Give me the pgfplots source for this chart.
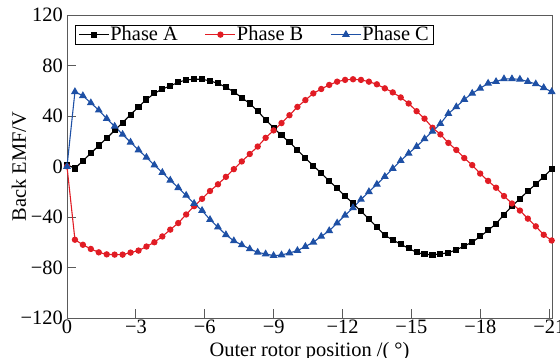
\documentclass[border=0pt]{standalone}
\usepackage{pgfplots}
\pgfplotsset{compat=1.18}
\usepackage{pgfplotstable}
\usepackage{fontspec}
\setmainfont{Liberation Serif}
\definecolor{pA}{RGB}{0,0,0}
\definecolor{pB}{RGB}{225,28,36}
\definecolor{pC}{RGB}{30,80,165}
\definecolor{axc}{RGB}{90,90,90}
\pgfplotstableread{
x A B C
0 1.5 0 0
-0.346 -1.6 -58 59.2
-0.692 4.6 -62 56
-1.038 10.4 -65.3 50.4
-1.384 16.6 -68 44.6
-1.730 22.4 -69.6 37.9
-2.076 28.6 -69.8 31.8
-2.422 34.7 -69.8 25.4
-2.768 41.1 -68.2 19.2
-3.114 47.2 -66.6 13.1
-3.460 53.1 -63.4 7.2
-3.806 57.9 -60 1.1
-4.152 61.4 -55.4 -4.8
-4.498 63.8 -50 -10.9
-4.844 66.7 -44.8 -16.8
-5.190 68.6 -38 -22.9
-5.536 69.1 -31.4 -29.3
-5.882 69.1 -25.6 -34.9
-6.228 67.8 -19.4 -42.1
-6.574 65.9 -14.1 -48
-6.920 62.7 -8.2 -54.1
-7.266 59.2 -2.1 -58.9
-7.612 54.4 4 -62.1
-7.958 49.9 9.9 -65.3
-8.304 43.8 15.8 -68
-8.650 37.1 22.7 -69.3
-8.996 30.7 28.6 -70.6
-9.342 24.6 34.4 -70.1
-9.688 19.2 40.6 -68.5
-10.034 13.1 47.2 -66.6
-10.380 6.7 52.6 -63.4
-10.726 0.6 57.9 -60
-11.072 -5.3 61.4 -55.4
-11.418 -11.4 64.6 -50.9
-11.764 -17.3 67.2 -44.8
-12.110 -23.4 68.6 -38.6
-12.456 -29.3 69.1 -32.8
-12.802 -35.4 68.6 -26.1
-13.148 -41.6 67.2 -20
-13.494 -48 65.1 -14.1
-13.840 -54.6 61.9 -8
-14.186 -58.1 58.7 -1.6
-14.532 -61.6 54.7 4.6
-14.878 -64.8 49.9 10.4
-15.224 -68 43.8 15.8
-15.570 -69.6 37.9 21.9
-15.916 -69.8 30.7 27.8
-16.262 -69.3 25.4 33.9
-16.608 -68.2 18.7 41.9
-16.954 -66.1 13.1 47.2
-17.300 -62.9 6.7 53.1
-17.646 -60 1.1 57.9
-17.992 -55.4 -5.6 61.9
-18.338 -50.6 -11.4 65.9
-18.684 -45.3 -16.8 67.2
-19.030 -38.1 -23.4 69.4
-19.376 -31.4 -29.3 69.4
-19.722 -25.6 -34.9 69.1
-20.068 -19.4 -41.3 67.2
-20.414 -14.1 -47.4 65.4
-20.760 -8 -54.1 62.4
-21.106 -2.1 -58.6 59.2
}\emf
\begin{document}
\begin{tikzpicture}[font=\fontsize{20.5}{23}\selectfont]
\begin{axis}[
  name=ax,
  scale only axis,
  width=485bp, height=303bp,
  x dir=reverse,
  xmin=-21.12, xmax=0,
  ymin=-120, ymax=120,
  xtick={0,-3,-6,-9,-12,-15,-18,-21},
  xticklabels={0,−3,−6,−9,−12,−15,−18,−21},
  ytick={-120,-80,-40,0,40,80,120},
  yticklabels={−120,−80,−40,0,40,80,120},
  tick pos=left,
  tick align=inside,
  major tick length=9bp,
  every tick/.style={axc, line width=0.8pt},
  axis line style={axc, line width=0.9pt},
  xticklabel style={anchor=north, inner sep=0pt, yshift=-2bp},
  yticklabel style={anchor=east, inner sep=0pt, xshift=-4bp},
  xlabel={Outer rotor position /( °)},
  ylabel={Back EMF/V},
  xlabel style={at={(axis description cs:0.5,0)}, anchor=base, yshift=-38bp, inner sep=0pt},
  ylabel style={at={(axis description cs:0,0.5)}, anchor=base, yshift=41bp, inner sep=0pt},
  legend columns=3,
  legend style={at={(rel axis cs:0,1)}, anchor=north west, xshift=8bp, yshift=-10bp,
    draw=black, line width=0.6pt, inner xsep=3bp, inner ysep=0bp,
    font=\fontsize{20.5}{23}\selectfont,
    nodes={inner xsep=1bp, inner ysep=1.5bp},
    /tikz/every even column/.append style={column sep=26bp}},
  legend image code/.code={\draw[mark repeat=2,mark phase=2] plot coordinates {(0bp,0bp) (15bp,0bp) (30bp,0bp)};},
]
\addplot[pA, line width=1.1pt, mark=square*, mark size=2.5bp, mark options={solid}] table[x=x,y=A]{\emf};
\addlegendentry{Phase A}
\addplot[pB, line width=1.1pt, mark=*, mark size=2.6bp, mark options={solid}] table[x=x,y=B]{\emf};
\addlegendentry{Phase B}
\addplot[pC, line width=1.1pt, mark=triangle*, mark size=3.5bp, mark options={solid}] table[x=x,y=C]{\emf};
\addlegendentry{Phase C}
\end{axis}
\pgfresetboundingbox
\useasboundingbox (ax.south west) ++(-67bp,-40bp) rectangle ++(560bp,358bp);
\end{tikzpicture}
\end{document}
